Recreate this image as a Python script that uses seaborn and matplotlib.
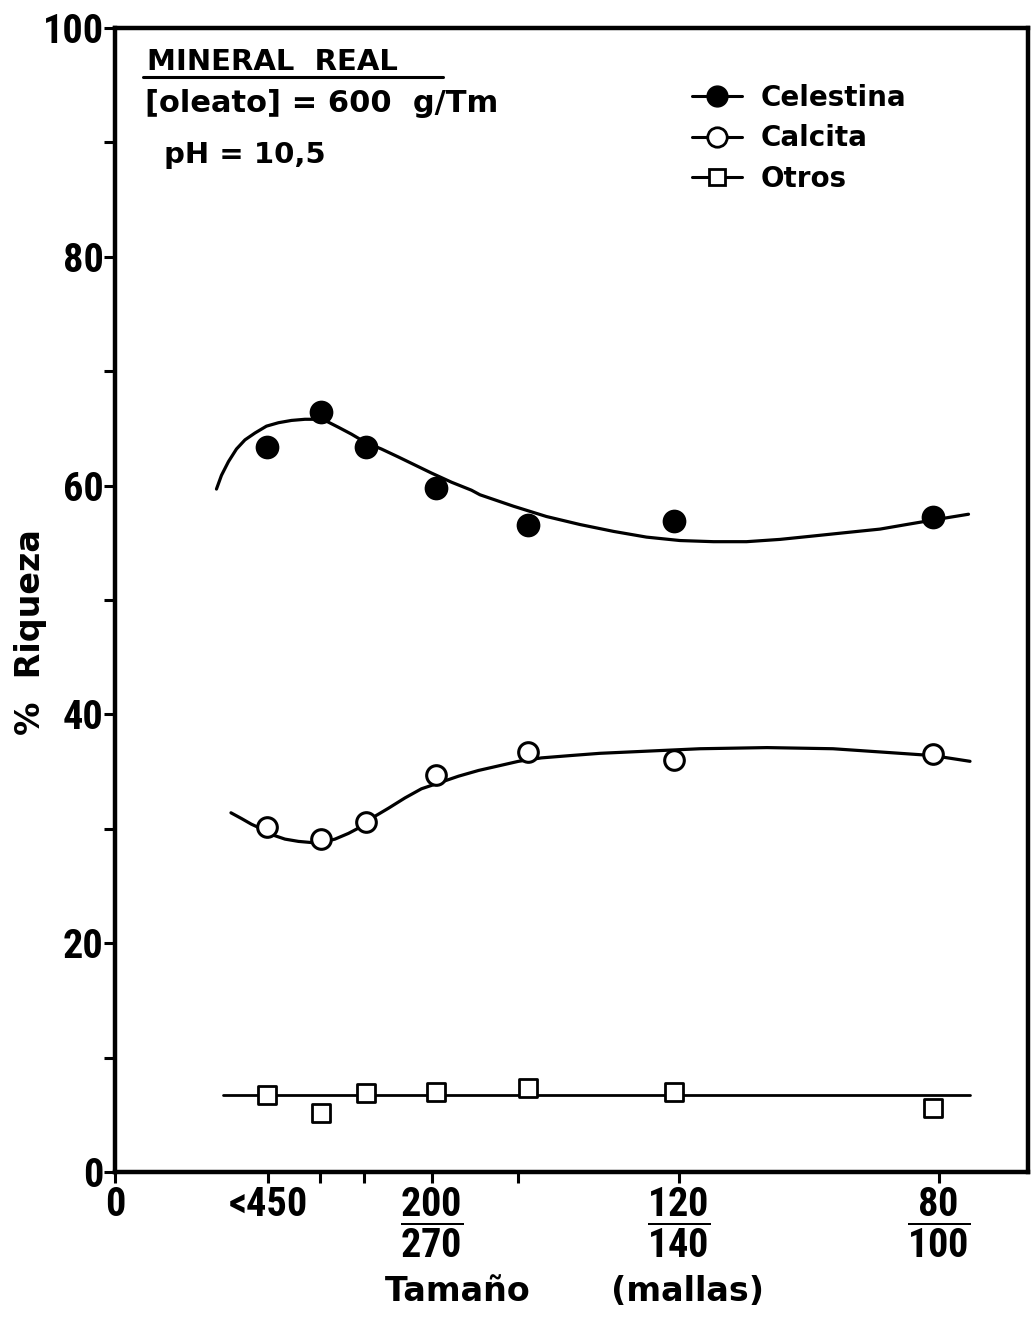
import numpy as np
import pandas as pd
import matplotlib
matplotlib.use("Agg")
import matplotlib.pyplot as plt
import seaborn as sns
from matplotlib import font_manager
from matplotlib.lines import Line2D

# datos (x en micras aprox., y en % riqueza)
tamano = [30.5, 41.2, 50.2, 64.2, 82.6, 111.8, 163.6]
celestina = [63.4, 66.4, 63.4, 59.8, 56.6, 56.9, 57.3]
calcita = [30.2, 29.1, 30.6, 34.7, 36.7, 36.0, 36.5]
otros = [6.7, 5.2, 6.9, 7.0, 7.3, 7.0, 5.6]

# curvas trazadas a mano en el original
cel_curva_x = [20.3, 21.3, 22.7, 24.3, 26.0, 28.0, 30.3, 32.7, 35.3, 38.0, 40.0, 42.0,
               44.7, 47.3, 50.0, 53.3, 56.7, 60.0, 63.3, 67.3, 71.3, 73.0, 79.7, 86.3,
               93.0, 99.7, 106.3, 113.0, 119.7, 126.3, 133.0, 139.7, 146.3, 153.0, 158.3,
               163.7, 170.7]
cel_curva_y = [59.7, 60.9, 62.1, 63.2, 64.0, 64.6, 65.2, 65.5, 65.7, 65.8, 65.8, 65.7,
               65.1, 64.5, 63.8, 63.2, 62.5, 61.8, 61.1, 60.3, 59.6, 59.2, 58.2, 57.3,
               56.6, 56.0, 55.5, 55.2, 55.1, 55.1, 55.3, 55.6, 55.9, 56.2, 56.6,
               57.0, 57.5]
cal_curva_x = [23.2, 25.3, 27.3, 29.3, 31.3, 34.0, 36.7, 39.3, 41.3, 44.0, 46.7, 49.3,
               52.0, 54.7, 58.0, 61.3, 64.7, 68.7, 72.7, 76.7, 80.7, 85.3, 91.0, 97.0,
               107.0, 117.0, 130.4, 143.6, 157.0, 163.6, 171.0]
cal_curva_y = [31.4, 30.9, 30.4, 30.0, 29.5, 29.1, 28.9, 28.8, 28.8, 29.1, 29.6, 30.2,
               31.1, 31.8, 32.7, 33.5, 34.0, 34.6, 35.1, 35.5, 35.9, 36.2, 36.4, 36.6,
               36.8, 37.0, 37.1, 37.0, 36.6, 36.4, 35.9]
otr_curva_x = [21.6, 171.0]
otr_curva_y = [6.7, 6.7]

xticks_pos = [0, 30.6, 63.4, 112.8, 164.8]
xticks_lab = ["0", "<450", r"$\dfrac{200}{270}$", r"$\dfrac{120}{140}$", r"$\dfrac{80}{100}$"]
xticks_menores = [41.0, 49.8, 80.6]
yticks_pos = list(range(0, 101, 10))
yticks_lab = [str(v) if v % 20 == 0 else "" for v in yticks_pos]

sns.set_theme(style="ticks")
plt.rcParams["font.family"] = ["DejaVu Sans"]
plt.rcParams["mathtext.default"] = "regular"
plt.rcParams["text.color"] = "black"
plt.rcParams["axes.labelcolor"] = "black"
plt.rcParams["xtick.color"] = "black"
plt.rcParams["ytick.color"] = "black"

# fuente estrecha para los numeros si existe
disponibles = {f.name for f in font_manager.fontManager.ttflist}
estrecha = "DejaVu Sans"
for nombre in ["DejaVu Sans Condensed", "Liberation Sans Narrow", "Roboto Condensed"]:
    if nombre in disponibles:
        estrecha = nombre
        break

fig = plt.figure(figsize=(10.31, 13.17), dpi=100)
ax = fig.add_axes([0.1115, 0.1101, 0.8856, 0.8686])

sns.lineplot(x=cel_curva_x, y=cel_curva_y, sort=False, estimator=None, color="black", lw=2.3, ax=ax)
sns.lineplot(x=cal_curva_x, y=cal_curva_y, sort=False, estimator=None, color="black", lw=2.3, ax=ax)
sns.lineplot(x=otr_curva_x, y=otr_curva_y, sort=False, estimator=None, color="black", lw=2.0, ax=ax)

sns.scatterplot(x=tamano, y=celestina, marker="o", s=250, color="black", edgecolor="black", ax=ax, zorder=3)
sns.scatterplot(x=tamano, y=calcita, marker="o", s=200, facecolor="white", edgecolor="black",
                linewidth=2.2, ax=ax, zorder=3)
sns.scatterplot(x=tamano, y=otros, marker="s", s=150, facecolor="white", edgecolor="black",
                linewidth=2.0, ax=ax, zorder=3)

ax.set_xlim(0, 182.6)
ax.set_ylim(0, 100)
for s in ax.spines.values():
    s.set_visible(True)
    s.set_linewidth(3.2)
    s.set_color("black")

ax.set_yticks(yticks_pos)
ax.set_yticklabels(yticks_lab, fontfamily=estrecha, fontsize=29, fontweight="bold")
ax.set_xticks(xticks_pos)
ax.set_xticklabels(xticks_lab, fontfamily=estrecha, fontsize=29, fontweight="bold")
ax.set_xticks(xticks_menores, minor=True)
ax.tick_params(axis="both", which="both", direction="out", length=8, width=2.2, color="black")
ax.tick_params(axis="y", pad=0)
ax.tick_params(axis="x", pad=2)

ax.set_ylabel("%  Riqueza", fontsize=24, fontweight="bold")
ax.yaxis.set_label_coords(-0.0745, 0.472)
ax.set_xlabel("Tamaño       (mallas)", fontsize=24, fontweight="bold")
ax.xaxis.set_label_coords(0.503, -0.09)

ax.text(0.035, 0.963, "MINERAL  REAL", transform=ax.transAxes, fontsize=21,
        fontweight="bold", va="baseline", ha="left")
ax.plot([0.031, 0.359], [0.957, 0.957], transform=ax.transAxes, color="black", lw=2.2, clip_on=False)
ax.text(0.033, 0.9266, "[oleato] = 600  g/Tm", transform=ax.transAxes, fontsize=22,
        fontweight="bold", va="baseline", ha="left")
ax.text(0.054, 0.882, "pH = 10,5", transform=ax.transAxes, fontsize=21,
        fontweight="bold", va="baseline", ha="left")

handles = [
    Line2D([], [], color="black", lw=2.2, marker="o", markersize=15, markerfacecolor="black"),
    Line2D([], [], color="black", lw=2.2, marker="o", markersize=14, markerfacecolor="white", markeredgewidth=2),
    Line2D([], [], color="black", lw=2.2, marker="s", markersize=11, markerfacecolor="white", markeredgewidth=2),
]
ax.legend(handles, ["Celestina", "Calcita", "Otros"], loc="upper left", bbox_to_anchor=(0.605, 0.973),
          frameon=False, handlelength=1.8, handletextpad=0.65, labelspacing=0.45,
          prop={"size": 20, "weight": "bold"})

fig.savefig("out.png", dpi=100, facecolor="white")
